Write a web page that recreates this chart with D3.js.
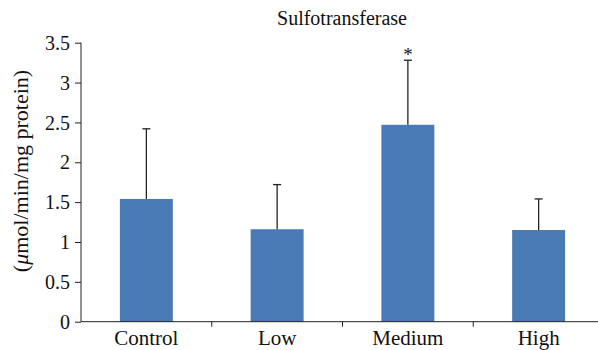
<!DOCTYPE html>
<html>
<head>
    <meta charset="UTF-8">
    <style>
        body { margin: 0; background: #fff; }
        svg { display: block; }
    </style>
</head>
<body>
    <svg></svg>
    <script src="https://d3js.org/d3.v7.min.js"></script>
    <script>
        let width = 598, height = 350;
        let serifFont = "'Liberation Serif', 'Times New Roman', Times, 'DejaVu Serif', serif";

        // data
        let groups = ["Control", "Low", "Medium", "High"];
        let means = [1.54, 1.16, 2.47, 1.15];
        let errors = [0.88, 0.56, 0.81, 0.39];
        let marks = ["", "", "*", ""];
        let yTicks = [0, 0.5, 1, 1.5, 2, 2.5, 3, 3.5];

        let mLeft = 81, mRight = 604, mTop = 42.7, mBottom = 321.7;

        let svg = d3.select("svg")
            .attr("width", width)
            .attr("height", height)
            .attr("font-family", serifFont);

        let x = d3.scaleBand().domain(groups).range([mLeft, mRight]).paddingInner(0.595).paddingOuter(0.2975);
        let y = d3.scaleLinear().domain([0, 3.5]).range([mBottom, mTop]);

        // bars
        svg.append("g").selectAll("rect")
            .data(groups)
            .enter()
            .append("rect")
            .attr("x", d => x(d))
            .attr("width", x.bandwidth())
            .attr("y", (d, i) => y(means[i]))
            .attr("height", (d, i) => mBottom - y(means[i]))
            .style("fill", "#4a7ab4");

        // error bars (upper only)
        let eb = svg.append("g").selectAll("g")
            .data(groups)
            .enter()
            .append("g");
        eb.append("line")
            .attr("x1", d => x(d) + x.bandwidth() / 2)
            .attr("x2", d => x(d) + x.bandwidth() / 2)
            .attr("y1", (d, i) => y(means[i]))
            .attr("y2", (d, i) => y(means[i] + errors[i]))
            .style("stroke", "#222").style("stroke-width", 1.3);
        eb.append("line")
            .attr("x1", d => x(d) + x.bandwidth() / 2 - 4)
            .attr("x2", d => x(d) + x.bandwidth() / 2 + 4)
            .attr("y1", (d, i) => y(means[i] + errors[i]))
            .attr("y2", (d, i) => y(means[i] + errors[i]))
            .style("stroke", "#222").style("stroke-width", 1.3);
        eb.append("text")
            .attr("x", d => x(d) + x.bandwidth() / 2)
            .attr("y", (d, i) => y(means[i] + errors[i]) + 1)
            .attr("text-anchor", "middle")
            .style("font-family", serifFont)
            .style("font-size", "19px")
            .style("fill", "#111")
            .text((d, i) => marks[i]);

        // y axis
        let yAxis = svg.append("g")
            .attr("transform", "translate(" + mLeft + ",0)")
            .call(d3.axisLeft(y).tickValues(yTicks).tickSize(6).tickPadding(5).tickFormat(d3.format("")));
        yAxis.select(".domain").attr("d", "M0," + mTop + "V" + mBottom).style("stroke", "#222");
        yAxis.selectAll(".tick line").style("stroke", "#222");
        yAxis.selectAll("text")
            .style("font-size", "20px")
            .style("font-family", serifFont)
            .style("fill", "#111")
            .attr("dy", "0.33em");

        // x axis with ticks at category boundaries
        let xAxis = svg.append("g").attr("transform", "translate(0," + mBottom + ")");
        xAxis.append("line").attr("x1", mLeft).attr("x2", mRight).style("stroke", "#222");
        let step = x.step();
        xAxis.selectAll(".btick")
            .data(groups.slice(1))
            .enter()
            .append("line")
            .attr("x1", d => x(d) - (step - x.bandwidth()) / 2)
            .attr("x2", d => x(d) - (step - x.bandwidth()) / 2)
            .attr("y1", 0).attr("y2", 5)
            .style("stroke", "#222");
        xAxis.selectAll(".lab")
            .data(groups)
            .enter()
            .append("text")
            .attr("x", d => x(d) + x.bandwidth() / 2)
            .attr("y", 23.5)
            .attr("text-anchor", "middle")
            .style("font-family", serifFont)
            .style("font-size", "21px")
            .style("fill", "#111")
            .text(d => d);

        // title
        svg.append("text")
            .attr("x", 342)
            .attr("y", 25)
            .attr("text-anchor", "middle")
            .style("font-family", serifFont)
            .style("font-size", "20px")
            .style("fill", "#111")
            .text("Sulfotransferase");

        // y label
        let yl = svg.append("text")
            .attr("transform", "translate(28,171) rotate(-90)")
            .attr("text-anchor", "middle")
            .style("font-family", serifFont)
            .style("font-size", "22px")
            .style("fill", "#111");
        yl.append("tspan").text("(");
        yl.append("tspan").style("font-style", "italic").text("μ");
        yl.append("tspan").text("mol/min/mg protein)");
    </script>
</body>
</html>
